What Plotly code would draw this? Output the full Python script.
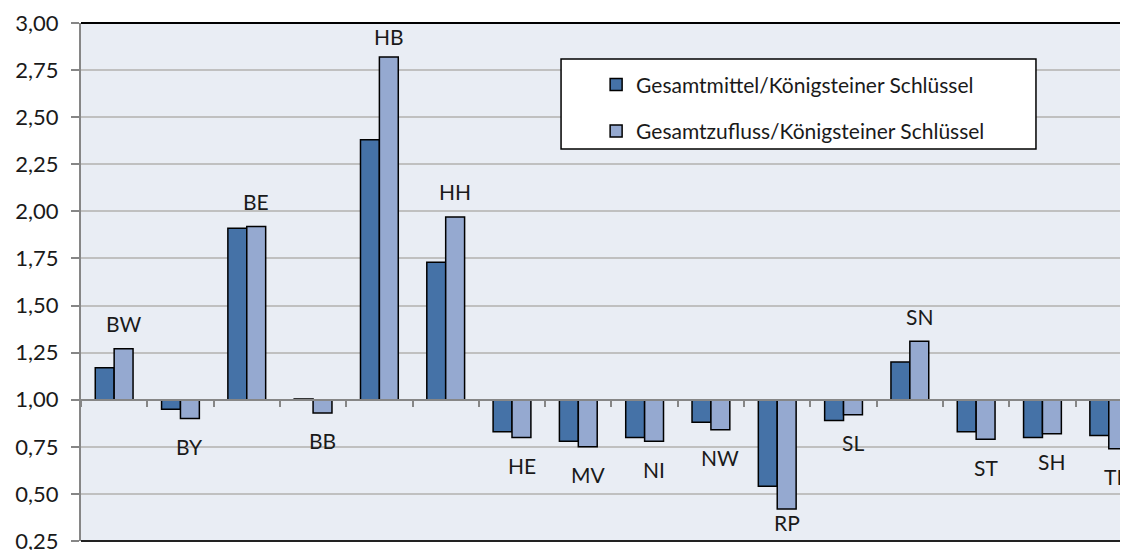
import plotly.graph_objects as go

categories = ['BW', 'BY', 'BE', 'BB', 'HB', 'HH', 'HE', 'MV', 'NI', 'NW', 'RP', 'SL', 'SN', 'ST', 'SH', 'TH']
gesamtmittel = [1.17, 0.95, 1.91, 1.004, 2.38, 1.73, 0.83, 0.78, 0.80, 0.88, 0.54, 0.89, 1.20, 0.83, 0.80, 0.81]
gesamtzufluss = [1.27, 0.90, 1.92, 0.93, 2.82, 1.97, 0.80, 0.75, 0.78, 0.84, 0.42, 0.92, 1.31, 0.79, 0.82, 0.74]
series_names = ['Gesamtmittel/Königsteiner Schlüssel', 'Gesamtzufluss/Königsteiner Schlüssel']

BASE = 1.0
dark = '#4572A7'
light = '#95A9D0'
font = 'Lato, Open Sans, sans-serif'

fig = go.Figure()
for name, vals, col, grp in [(series_names[0], gesamtmittel, dark, 'a'),
                             (series_names[1], gesamtzufluss, light, 'b')]:
    fig.add_trace(go.Bar(
        x=categories,
        y=[v - BASE for v in vals],
        base=BASE,
        name=name,
        legendgroup=grp,
        marker=dict(color=col, line=dict(color='black', width=1.5)),
        hovertemplate='%{x}: %{customdata:.2f}<extra></extra>',
        customdata=vals,
    ))

# Bundesland-Kuerzel ueber/unter dem zweiten Balken
annotations = []
for cat, v in zip(categories, gesamtzufluss):
    y = v + 0.133 if v >= BASE else v - 0.149
    y = min(max(y, 0.35), 2.93)
    annotations.append(dict(x=cat, y=y, text=cat, showarrow=False, xshift=9.5,
                            yanchor='middle', font=dict(size=21, color='#1a1a1a')))

shapes = [
    # Rahmen oben / unten
    dict(type='line', xref='paper', yref='paper', x0=0, x1=1, y0=1, y1=1,
         line=dict(color='black', width=2), layer='above'),
    dict(type='line', xref='paper', yref='paper', x0=0, x1=1, y0=0, y1=0,
         line=dict(color='#222222', width=2), layer='above'),
    # Legendenkasten
    dict(type='rect', xref='paper', yref='paper', x0=0.4585, x1=0.9121, y0=0.7568, y1=0.9305,
         fillcolor='white', line=dict(color='black', width=1.5), layer='above'),
]

# die Seite hat 8px body-Rand -> Raender entsprechend verschoben
fig.update_layout(
    width=1128, height=550,
    margin=dict(l=73, r=8, t=15, b=17),
    paper_bgcolor='white',
    plot_bgcolor='#E9EDF4',
    separators=',.',
    font=dict(family=font, size=22, color='#1a1a1a'),
    barmode='group',
    bargap=0.43,
    bargroupgap=0,
    showlegend=True,
    legend=dict(x=0.492, y=0.92, xanchor='left', yanchor='top',
                bgcolor='rgba(0,0,0,0)', borderwidth=0,
                traceorder='grouped', tracegroupgap=16,
                font=dict(size=21)),
    annotations=annotations,
    shapes=shapes,
)

fig.update_xaxes(
    type='category', range=[-0.5, 15.29],
    anchor='free', position=(BASE - 0.25) / 2.75,
    showline=True, linecolor='#868686', linewidth=2,
    ticks='outside', tickson='boundaries', ticklen=6, tickcolor='#868686', tickwidth=2,
    showticklabels=False, showgrid=False, zeroline=False, automargin=False,
)
fig.update_yaxes(
    range=[0.25, 3.0], dtick=0.25, tick0=0.25, tickformat='.2f',
    showline=True, linecolor='#868686', linewidth=2,
    ticks='outside', ticklen=8, tickcolor='#868686', tickwidth=2,
    ticklabelstandoff=8,
    showgrid=True, gridcolor='#C0C0C0', gridwidth=1.5,
    zeroline=False, automargin=False,
)

fig.write_html("out.html")
